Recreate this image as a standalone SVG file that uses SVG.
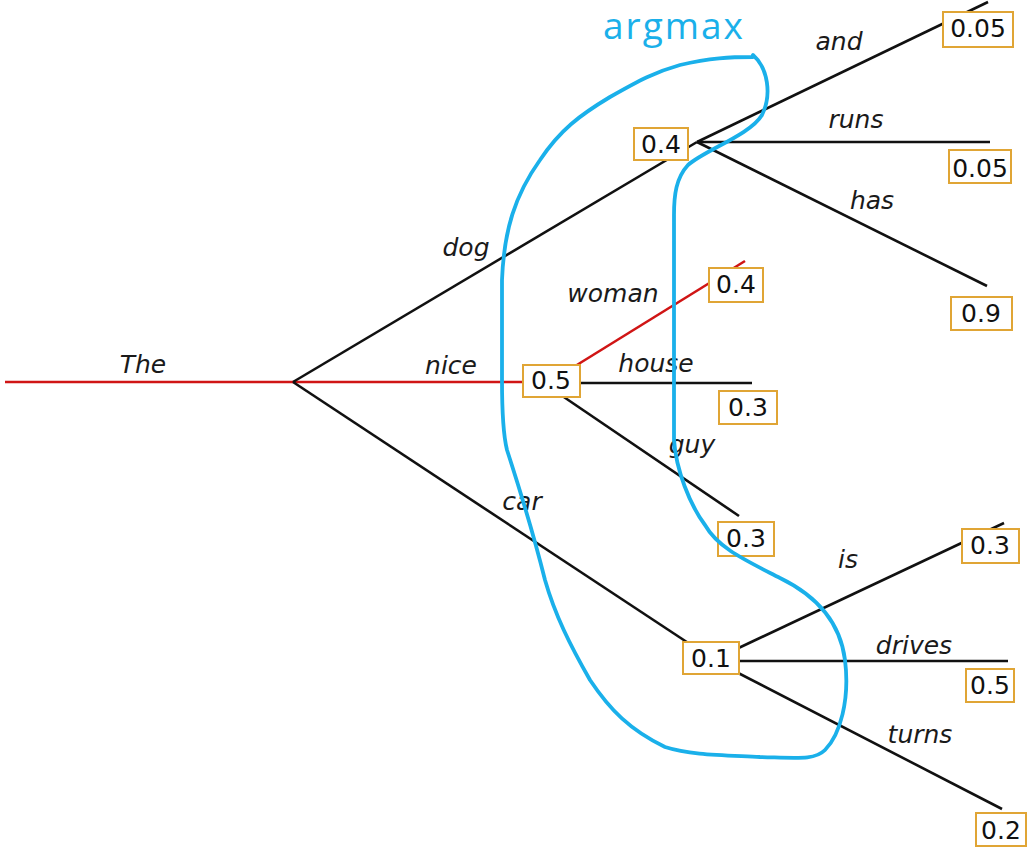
<svg xmlns="http://www.w3.org/2000/svg" width="1028" height="848" viewBox="0 0 1028 848">
<style>
.e{stroke:#111;stroke-width:2.6;fill:none;stroke-linejoin:miter}
.r{stroke:#d01515;stroke-width:2.6;fill:none}
.lbl{font-family:"DejaVu Sans",sans-serif;font-style:oblique;font-size:25px;fill:#1a1a1a;text-anchor:middle}
.box{fill:#fff;stroke:#e0a535;stroke-width:2}
.num{font-family:"DejaVu Sans",sans-serif;font-size:25px;fill:#111;text-anchor:middle}
.hand{fill:none;stroke:#1ab0ea;stroke-width:3.8;stroke-linecap:round;stroke-linejoin:round}
</style>
<rect width="1028" height="848" fill="#fff"/>
<g id="connectors">
<line class="r" x1="5" y1="382" x2="293" y2="382"/>
<line class="r" x1="293" y1="382" x2="551" y2="382"/>
<line class="e" x1="293" y1="382" x2="697" y2="142"/>
<line class="e" x1="293" y1="382" x2="711" y2="658"/>
<line class="e" x1="697" y1="142" x2="988" y2="2"/>
<line class="e" x1="697" y1="142" x2="990" y2="142"/>
<line class="e" x1="697" y1="142" x2="987" y2="286"/>
<line class="r" x1="551" y1="381" x2="745" y2="261"/>
<line class="e" x1="580" y1="383" x2="752" y2="383"/>
<line class="e" x1="555" y1="391" x2="739" y2="516"/>
<line class="e" x1="711" y1="661" x2="1004" y2="523"/>
<line class="e" x1="711" y1="661" x2="1008" y2="661"/>
<line class="e" x1="711" y1="659" x2="1002" y2="809"/>
<text class="lbl" x="143" y="373">The</text>
<text class="lbl" x="451" y="374">nice</text>
<text class="lbl" x="466" y="256">dog</text>
<text class="lbl" x="522" y="510">car</text>
<text class="lbl" x="613" y="302">woman</text>
<text class="lbl" x="656" y="372">house</text>
<text class="lbl" x="692" y="453">guy</text>
<text class="lbl" x="839" y="50">and</text>
<text class="lbl" x="856" y="128">runs</text>
<text class="lbl" x="872" y="209">has</text>
<text class="lbl" x="848" y="568">is</text>
<text class="lbl" x="914" y="654">drives</text>
<text class="lbl" x="920" y="743">turns</text>
</g>
<g id="n-dog"><rect class="box" x="634" y="128" width="54" height="32"/><text class="num" x="661" y="153">0.4</text></g>
<g id="n-and"><rect class="box" x="943" y="12" width="70" height="35"/><text class="num" x="978" y="37">0.05</text></g>
<g id="n-runs"><rect class="box" x="949" y="150" width="62" height="33"/><text class="num" x="980" y="177">0.05</text></g>
<g id="n-has"><rect class="box" x="951" y="297" width="61" height="33"/><text class="num" x="981" y="322">0.9</text></g>
<g id="n-nice"><rect class="box" x="523" y="365" width="57" height="32"/><text class="num" x="551" y="389">0.5</text></g>
<g id="n-woman"><rect class="box" x="709" y="268" width="54" height="34"/><text class="num" x="736" y="293">0.4</text></g>
<g id="n-house"><rect class="box" x="719" y="391" width="58" height="33"/><text class="num" x="748" y="416">0.3</text></g>
<g id="n-guy"><rect class="box" x="718" y="522" width="56" height="34"/><text class="num" x="746" y="547">0.3</text></g>
<g id="n-car"><rect class="box" x="683" y="642" width="56" height="32"/><text class="num" x="711" y="667">0.1</text></g>
<g id="n-is"><rect class="box" x="962" y="529" width="57" height="34"/><text class="num" x="990" y="554">0.3</text></g>
<g id="n-drives"><rect class="box" x="966" y="669" width="48" height="33"/><text class="num" x="990" y="694">0.5</text></g>
<g id="n-turns"><rect class="box" x="976" y="813" width="50" height="33"/><text class="num" x="1001" y="839">0.2</text></g>
<g id="argmax">
<path class="hand" d="M753,55 C768,68 772,95 762,115 C750,135 705,150 688,165 C676,178 674,195 674,215 L674,440 C676,470 690,505 705,525 C718,548 745,560 780,578 C815,595 840,620 845,660 C850,700 840,735 825,750 C815,760 800,758 760,757 C720,755 690,755 665,747 C630,730 610,710 590,680 C570,645 555,615 545,580 C535,540 520,490 507,450 C502,430 502,400 502,380 L502,280 C504,230 515,195 540,160 C560,130 580,115 610,97 C640,80 655,72 680,65 C710,58 730,57 753,57"/>
<text x="674" y="39" font-family="'Open Sans',sans-serif" font-size="37" letter-spacing="2" fill="#1ab0ea" text-anchor="middle">argmax</text>
</g>
</svg>
